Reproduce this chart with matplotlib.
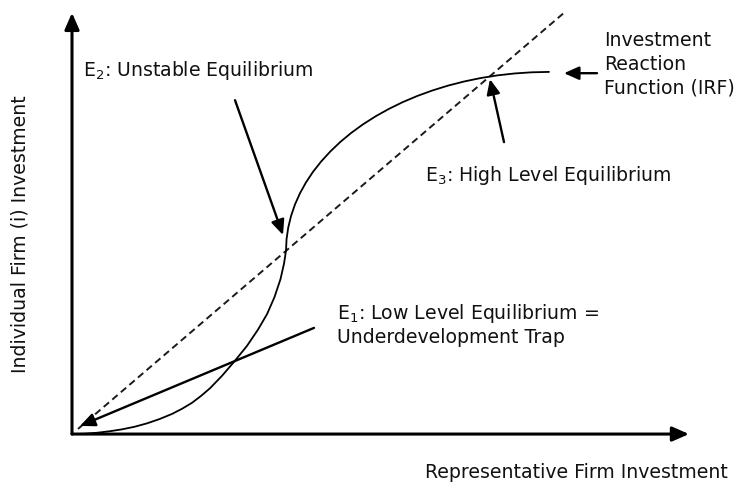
import matplotlib
matplotlib.use("Agg")
import matplotlib.pyplot as plt

plt.rcParams['font.family'] = ['DejaVu Sans']
plt.rcParams['mathtext.default'] = 'regular'

# ---- data (investment units) ----
# 45-degree line (individual = representative)
diag_x = [0.12, 9.88]
diag_y = [0.12, 9.88]

# Investment Reaction Function (S-shaped curve)
irf_x = [0.0, 0.25, 0.5, 0.75, 1.0, 1.25, 1.5, 1.75, 2.0, 2.2, 2.4, 2.58, 2.76, 3.0, 3.25, 3.5,
         3.72, 3.9, 4.05, 4.17, 4.24, 4.28,
         4.291, 4.325, 4.381, 4.459, 4.559, 4.68, 4.822, 4.985, 5.167, 5.367, 5.585, 5.821,
         6.072, 6.338, 6.618, 6.91, 7.214, 7.527, 7.849, 8.179, 8.514, 8.853, 9.196, 9.54]
irf_y = [0.0, 0.008, 0.03, 0.065, 0.11, 0.17, 0.25, 0.35, 0.47, 0.59, 0.73, 0.89, 1.07, 1.36, 1.70, 2.06,
         2.44, 2.8, 3.2, 3.62, 3.98, 4.28,
         4.553, 4.826, 5.095, 5.362, 5.624, 5.88, 6.129, 6.37, 6.602, 6.825, 7.036, 7.236,
         7.423, 7.596, 7.756, 7.9, 8.029, 8.142, 8.238, 8.318, 8.38, 8.424, 8.451, 8.46]

# axis extents
x_axis_end = 12.34
y_axis_end = 9.84

# annotations: (text, text_xy, arrow_start, arrow_tip, linespacing)
labels = [
    (r'E$_2$: Unstable Equilibrium', (0.22, 8.50), (3.26, 7.80), (4.22, 4.65), 1.2),
    (r'E$_3$: High Level Equilibrium', (7.06, 6.05), (8.64, 6.82), (8.36, 8.29), 1.2),
    ('E$_1$: Low Level Equilibrium =\nUnderdevelopment Trap', (5.30, 2.56), (4.84, 2.48), (0.16, 0.19), 1.18),
    ('Investment\nReaction\nFunction (IRF)', (10.64, 8.64), (10.50, 8.43), (9.84, 8.43), 1.31),
]
x_label = 'Representative Firm Investment'
y_label = 'Individual Firm (i) Investment'

# ---- figure ----
fig = plt.figure(figsize=(7.46, 4.82), dpi=100)
ax = fig.add_axes([0, 0, 1, 1])
ax.set_xlim(-1.44, 13.48)
ax.set_ylim(-1.12, 10.14)
ax.axis('off')

# axes with arrows
axis_arrow = dict(arrowstyle='-|>,head_length=0.5,head_width=0.22', lw=2.2, color='black',
                  shrinkA=0, shrinkB=0, mutation_scale=20)
ax.annotate('', xy=(x_axis_end, 0), xytext=(0, 0), arrowprops=axis_arrow)
ax.annotate('', xy=(0, y_axis_end), xytext=(0, 0), arrowprops=axis_arrow)

# 45 degree dashed line
ax.plot(diag_x, diag_y, color='#1a1a1a', lw=1.4, dashes=(3.6, 2.2))

# IRF curve
ax.plot(irf_x, irf_y, color='black', lw=1.3, solid_capstyle='round', solid_joinstyle='round')

fs = 13.6
for text, txy, start, tip, ls in labels:
    ax.text(txy[0], txy[1], text, fontsize=fs, ha='left', va='center', linespacing=ls,
            color='#111111')
    ax.annotate('', xy=tip, xytext=start,
                arrowprops=dict(arrowstyle='-|>,head_length=0.45,head_width=0.2', lw=1.7,
                                color='black', shrinkA=0, shrinkB=0, mutation_scale=20))

ax.text(10.08, -0.89, x_label, fontsize=fs, ha='center', va='center', color='#111111')
ax.text(-1.04, 4.67, y_label, fontsize=fs, ha='center', va='center', rotation=90,
        color='#111111')

fig.savefig('out.png', dpi=100)
